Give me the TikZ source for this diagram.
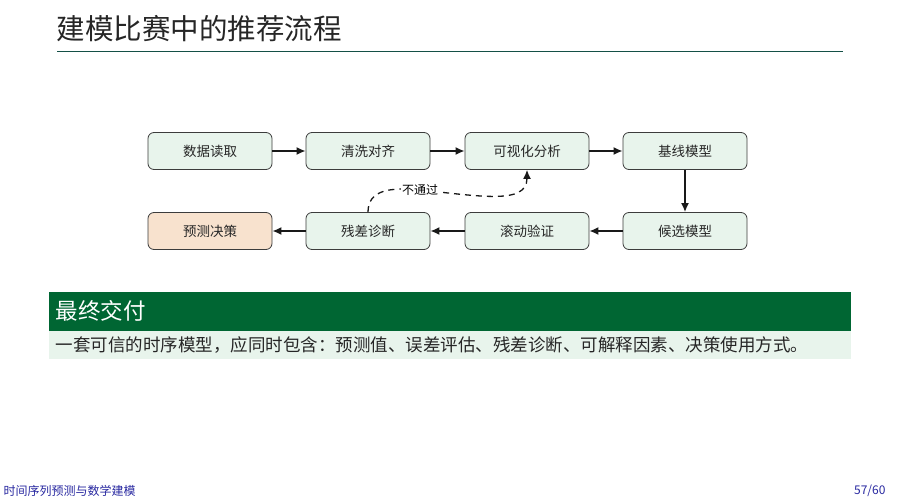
\documentclass[tikz,border=0pt]{standalone}
\usepackage{fontspec}
\newfontfamily\cjk{Noto Sans CJK SC}
\usetikzlibrary{arrows.meta}
\definecolor{boxfill}{RGB}{232,244,236}
\definecolor{boxline}{RGB}{60,60,60}
\definecolor{orangefill}{RGB}{248,226,206}
\definecolor{bannergreen}{RGB}{0,102,51}
\definecolor{lightband}{RGB}{232,244,236}
\definecolor{rulecol}{RGB}{20,80,70}
\definecolor{footblue}{RGB}{40,40,160}
\begin{document}
\begin{tikzpicture}[x=1pt,y=-1pt,
  box/.style={draw=boxline,fill=boxfill,rounded corners=6pt,minimum width=124pt,minimum height=37pt,font=\cjk\fontsize{13.5}{15}\selectfont,text=black!85,inner sep=0pt,line width=0.8pt},
  arr/.style={-{Latex[length=9pt,width=8pt]},line width=1.6pt,black!90}]
\useasboundingbox (0,0) rectangle (900,503);
\node[anchor=west,font=\cjk\fontsize{28.5}{32}\selectfont,text=black!85] (title) at (53,29) {建模比赛中的推荐流程};
\draw[rulecol,line width=1pt] (57,52) -- (843,52);
\node[box] (a) at (210,151) {数据读取};
\node[box] (b) at (368,151) {清洗对齐};
\node[box] (c) at (527,151) {可视化分析};
\node[box] (d) at (685,151) {基线模型};
\node[box] (e) at (685,231) {候选模型};
\node[box] (f) at (527,231) {滚动验证};
\node[box] (g) at (368,231) {残差诊断};
\node[box,fill=orangefill] (h) at (210,231) {预测决策};
\draw[arr] (a) -- (b);
\draw[arr] (b) -- (c);
\draw[arr] (c) -- (d);
\draw[arr] (d) -- (e);
\draw[arr] (e) -- (f);
\draw[arr] (f) -- (g);
\draw[arr] (g) -- (h);
\draw[arr,dash pattern=on 6pt off 5pt,line width=1.3pt] (g.north) .. controls (368,190) and (390,187) .. (420,190) .. controls (480,196) and (527,205) .. (c.south);
\node[font=\cjk\fontsize{12}{14}\selectfont,fill=white,inner sep=1pt] (lab) at (420,190) {不通过};
\fill[bannergreen] (49,292) rectangle (851,331);
\node[anchor=west,text=white,font=\cjk\fontsize{22.5}{26}\selectfont] (bt) at (52,311) {最终交付};
\fill[lightband] (49,331) rectangle (851,359);
\node[anchor=west,font=\cjk\fontsize{17.5}{20}\selectfont,text=black!85] (bd) at (52,345) {一套可信的时序模型，应同时包含：预测值、误差评估、残差诊断、可解释因素、决策使用方式。};
\node[anchor=west,font=\cjk\fontsize{12}{14}\selectfont,text=footblue] (f1) at (0,491) {时间序列预测与数学建模};
\node[anchor=east,font=\cjk\fontsize{12}{14}\selectfont,text=footblue] (f2) at (889,491) {57/60};
\end{tikzpicture}
\end{document}
